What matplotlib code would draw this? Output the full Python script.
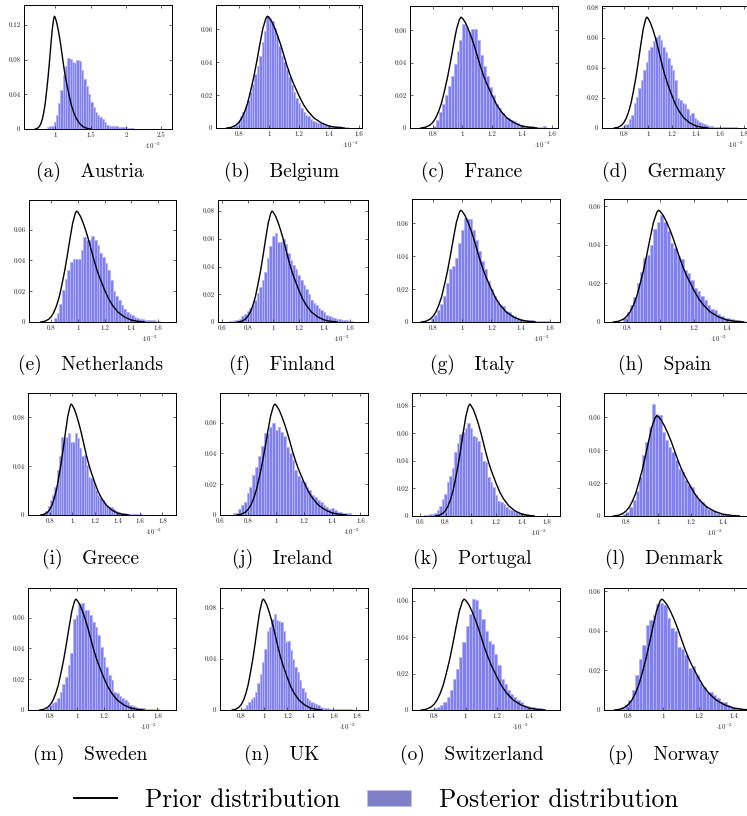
import matplotlib.pyplot as plt
import matplotlib.transforms as mtransforms
from matplotlib.lines import Line2D
from matplotlib.patches import Patch
from matplotlib.ticker import FuncFormatter

plt.rcParams['font.family'] = 'cmr10'
plt.rcParams['mathtext.fontset'] = 'cm'
plt.rcParams['axes.unicode_minus'] = False

# 国名とラベル
countries = ['Austria', 'Belgium', 'France', 'Germany',
             'Netherlands', 'Finland', 'Italy', 'Spain',
             'Greece', 'Ireland', 'Portugal', 'Denmark',
             'Sweden', 'UK', 'Switzerland', 'Norway']
letters = 'abcdefghijklmnop'

# 事前分布の形（ピーク=1 に正規化、x は 10^-2 単位）
prior_x = [0.72, 0.75, 0.78, 0.80, 0.82, 0.84, 0.86, 0.88, 0.90, 0.92, 0.94,
           0.96, 0.98, 0.99, 1.00, 1.02, 1.04, 1.06, 1.08, 1.10, 1.12, 1.14,
           1.16, 1.18, 1.20, 1.23, 1.26, 1.30, 1.35, 1.40, 1.45, 1.50]
prior_rel = [0.0, 0.006, 0.025, 0.05, 0.09, 0.15, 0.23, 0.34, 0.46, 0.60, 0.75,
             0.89, 0.98, 1.0, 0.99, 0.95, 0.89, 0.82, 0.74, 0.65, 0.56, 0.48,
             0.41, 0.35, 0.29, 0.21, 0.15, 0.09, 0.045, 0.018, 0.006, 0.0]
prior_peak = [0.130, 0.068, 0.068, 0.074, 0.072, 0.080, 0.068, 0.058,
              0.091, 0.072, 0.081, 0.061, 0.072, 0.087, 0.061, 0.056]

# 事後分布ヒストグラム（先頭ビン中心、ビン幅、高さ）
hist_start = [0.896, 0.768, 0.81, 0.79, 0.83, 0.66, 0.80, 0.79,
              0.73, 0.70, 0.64, 0.79, 0.78, 0.81, 0.79, 0.75]
hist_step = [0.0324, 0.016, 0.02, 0.02, 0.02, 0.02, 0.02, 0.02,
             0.02, 0.02, 0.02, 0.02, 0.02, 0.02, 0.02, 0.02]

h_austria = [0.002, 0.003, 0.004, 0.008, 0.016, 0.030, 0.045, 0.062, 0.073, 0.082,
             0.081, 0.077, 0.076, 0.079, 0.078, 0.068, 0.058, 0.050, 0.040, 0.031,
             0.025, 0.020, 0.016, 0.014, 0.011, 0.008, 0.005, 0.004, 0.003, 0.003,
             0.003, 0.002, 0.002, 0.002, 0.002, 0.001, 0.001, 0.001, 0.0005, 0.0005,
             0.0005, 0.0005, 0.0005, 0.0005, 0.0005, 0.0005, 0.0005, 0.0005, 0.0005, 0.0005]
h_belgium = [0.001, 0.002, 0.004, 0.007, 0.010, 0.013, 0.017, 0.022, 0.027, 0.033,
             0.038, 0.044, 0.052, 0.059, 0.068, 0.067, 0.065, 0.061, 0.056, 0.050,
             0.044, 0.040, 0.035, 0.031, 0.026, 0.022, 0.018, 0.015, 0.012, 0.010,
             0.008, 0.007, 0.0055, 0.0045, 0.0035, 0.003, 0.0028, 0.0022, 0.002, 0.0015,
             0.0015, 0.001, 0.001, 0.001, 0.0012, 0.0008, 0.0008, 0.0005, 0.0003, 0.0003]
h_france = [0.001, 0.005, 0.010, 0.015, 0.020, 0.026, 0.032, 0.039, 0.047, 0.054,
            0.064, 0.062, 0.059, 0.061, 0.061, 0.054, 0.045, 0.038, 0.032, 0.025,
            0.020, 0.015, 0.012, 0.009, 0.007, 0.006, 0.005, 0.004, 0.003, 0.002,
            0.0015, 0.0012, 0.001, 0.001, 0.0008, 0.0008, 0.0006, 0.001]
h_germany = [0.001, 0.002, 0.003, 0.006, 0.009, 0.017, 0.021, 0.027, 0.032, 0.039,
             0.044, 0.052, 0.054, 0.058, 0.061, 0.062, 0.059, 0.054, 0.051, 0.047,
             0.042, 0.039, 0.032, 0.020, 0.019, 0.017, 0.016, 0.013, 0.009, 0.010,
             0.007, 0.0055, 0.004, 0.0033, 0.0025, 0.002, 0.0015, 0.0012, 0.001, 0.001,
             0.0008, 0.0008, 0.0006, 0.0006, 0.0005, 0.0005, 0.0004, 0.0004, 0.0003]
h_netherlands = [0.0025, 0.006, 0.012, 0.021, 0.028, 0.034, 0.039, 0.041, 0.041, 0.041,
                 0.047, 0.055, 0.053, 0.053, 0.056, 0.053, 0.050, 0.045, 0.042, 0.038,
                 0.034, 0.027, 0.020, 0.017, 0.014, 0.011, 0.0086, 0.0065, 0.005, 0.0043,
                 0.003, 0.0025, 0.002, 0.002, 0.0015, 0.0012, 0.001, 0.001, 0.0008, 0.0006]
h_finland = [0.0008, 0.001, 0.0012, 0.0018, 0.0025, 0.004, 0.006, 0.008, 0.010, 0.012,
             0.016, 0.021, 0.025, 0.030, 0.036, 0.046, 0.055, 0.062, 0.064, 0.058,
             0.058, 0.060, 0.056, 0.050, 0.045, 0.041, 0.038, 0.034, 0.030, 0.027,
             0.024, 0.020, 0.016, 0.014, 0.012, 0.010, 0.009, 0.007, 0.005, 0.004,
             0.0035, 0.003, 0.0025, 0.002, 0.0017, 0.0015, 0.0012, 0.001, 0.0008]
h_italy = [0.0025, 0.0045, 0.0075, 0.011, 0.016, 0.024, 0.032, 0.034, 0.039, 0.048,
           0.056, 0.063, 0.0625, 0.0625, 0.056, 0.050, 0.043, 0.037, 0.032, 0.025,
           0.020, 0.016, 0.0125, 0.0105, 0.0095, 0.0065, 0.006, 0.0045, 0.0035, 0.0025,
           0.002, 0.0012, 0.001, 0.0015, 0.001, 0.0008, 0.0008, 0.0006, 0.0005, 0.0008]
h_spain = [0.002, 0.005, 0.009, 0.013, 0.020, 0.026, 0.033, 0.035, 0.040, 0.048,
           0.052, 0.0555, 0.052, 0.047, 0.041, 0.0385, 0.034, 0.0325, 0.027, 0.0255,
           0.022, 0.0175, 0.016, 0.0135, 0.0115, 0.009, 0.0065, 0.006, 0.004, 0.003,
           0.002, 0.002, 0.0015, 0.001, 0.001, 0.0005]
h_greece = [0.0005, 0.0015, 0.003, 0.007, 0.012, 0.016, 0.023, 0.037, 0.048, 0.064,
            0.063, 0.064, 0.067, 0.060, 0.060, 0.067, 0.063, 0.055, 0.048, 0.049,
            0.041, 0.0315, 0.030, 0.026, 0.0205, 0.0165, 0.0137, 0.0123, 0.0096, 0.008,
            0.0068, 0.0063, 0.0047, 0.0036, 0.0027, 0.002, 0.0018, 0.0015, 0.0012, 0.001,
            0.0008, 0.0008, 0.0006, 0.0005, 0.0005, 0.0004, 0.0004, 0.0003, 0.0003, 0.0003,
            0.0003, 0.0003]
h_ireland = [0.001, 0.0015, 0.004, 0.0065, 0.0086, 0.014, 0.018, 0.026, 0.031, 0.038,
             0.045, 0.053, 0.053, 0.057, 0.060, 0.055, 0.057, 0.054, 0.051, 0.044,
             0.040, 0.036, 0.029, 0.025, 0.023, 0.0215, 0.018, 0.016, 0.013, 0.012,
             0.0097, 0.0086, 0.0065, 0.0054, 0.0037, 0.0047, 0.0032, 0.002, 0.0017, 0.0015,
             0.0015, 0.001]
h_portugal = [0.0007, 0.001, 0.0012, 0.0017, 0.0024, 0.004, 0.007, 0.012, 0.016, 0.0245,
              0.029, 0.035, 0.046, 0.053, 0.0595, 0.061, 0.064, 0.0675, 0.064, 0.058,
              0.057, 0.054, 0.046, 0.040, 0.039, 0.028, 0.0245, 0.021, 0.015, 0.011,
              0.010, 0.009, 0.0065, 0.0053, 0.004, 0.0034, 0.0027, 0.0022, 0.0019, 0.0014,
              0.0012, 0.001, 0.0007]
h_denmark = [0.001, 0.0024, 0.0055, 0.0095, 0.0155, 0.0236, 0.0368, 0.045, 0.054, 0.068,
             0.062, 0.0617, 0.051, 0.046, 0.042, 0.039, 0.034, 0.0287, 0.0267, 0.0216,
             0.0186, 0.0176, 0.0125, 0.0105, 0.0085, 0.006, 0.0044, 0.0034, 0.0028, 0.002,
             0.0014, 0.0012, 0.001, 0.0008, 0.0006, 0.0005]
h_sweden = [0.001, 0.003, 0.0047, 0.005, 0.0075, 0.012, 0.017, 0.0216, 0.029, 0.0367,
            0.059, 0.0615, 0.069, 0.0697, 0.065, 0.065, 0.0615, 0.057, 0.054, 0.0485,
            0.041, 0.0345, 0.028, 0.0227, 0.0194, 0.012, 0.0108, 0.0093, 0.0075, 0.0065,
            0.0054, 0.0032, 0.0028, 0.0022, 0.0015, 0.0011, 0.0011, 0.0009, 0.0007, 0.0006,
            0.0005, 0.0004]
h_uk = [0.0008, 0.0018, 0.004, 0.0065, 0.009, 0.010, 0.014, 0.021, 0.0286, 0.0377,
        0.048, 0.062, 0.065, 0.0714, 0.075, 0.0706, 0.070, 0.0688, 0.062, 0.053,
        0.0538, 0.0468, 0.040, 0.034, 0.030, 0.0234, 0.017, 0.014, 0.0096, 0.0078,
        0.0065, 0.0052, 0.0044, 0.0039, 0.0026, 0.0018, 0.0013, 0.0013, 0.0008, 0.0006,
        0.0006, 0.0005, 0.0005, 0.0004, 0.0004, 0.0004, 0.0005, 0.0006]
h_switzerland = [0.0005, 0.0013, 0.0018, 0.0027, 0.0045, 0.0073, 0.011, 0.0173, 0.0227, 0.029,
                 0.0373, 0.046, 0.0527, 0.061, 0.0604, 0.0555, 0.050, 0.0436, 0.038, 0.0364,
                 0.031, 0.0245, 0.0173, 0.0145, 0.011, 0.009, 0.0073, 0.0055, 0.0045, 0.003,
                 0.0024, 0.0018, 0.0015, 0.0009, 0.0009, 0.0005]
h_norway = [0.0005, 0.0012, 0.0025, 0.005, 0.010, 0.0177, 0.026, 0.033, 0.043, 0.0456,
            0.048, 0.0535, 0.054, 0.053, 0.0464, 0.0413, 0.0397, 0.032, 0.031, 0.0278,
            0.021, 0.022, 0.0177, 0.0135, 0.0118, 0.0093, 0.0093, 0.0076, 0.0059, 0.0042,
            0.0039, 0.0025, 0.0017, 0.0012, 0.0008, 0.0006, 0.0005]

posterior = [h_austria, h_belgium, h_france, h_germany,
             h_netherlands, h_finland, h_italy, h_spain,
             h_greece, h_ireland, h_portugal, h_denmark,
             h_sweden, h_uk, h_switzerland, h_norway]

# 軸範囲と目盛り
x_lo = [0.56, 0.648, 0.647, 0.617, 0.632, 0.566, 0.657, 0.664,
        0.607, 0.603, 0.535, 0.663, 0.632, 0.615, 0.662, 0.661]
x_hi = [2.65, 1.62, 1.643, 1.85, 1.737, 1.744, 1.668, 1.55,
        1.92, 1.654, 1.704, 1.58, 1.74, 1.90, 1.595, 1.505]
x_ticks = [[1, 1.5, 2, 2.5],
           [0.8, 1, 1.2, 1.4, 1.6], [0.8, 1, 1.2, 1.4, 1.6],
           [0.8, 1, 1.2, 1.4, 1.6, 1.8], [0.8, 1, 1.2, 1.4, 1.6],
           [0.6, 0.8, 1, 1.2, 1.4, 1.6], [0.8, 1, 1.2, 1.4, 1.6],
           [0.8, 1, 1.2, 1.4], [0.8, 1, 1.2, 1.4, 1.6, 1.8],
           [0.6, 0.8, 1, 1.2, 1.4, 1.6], [0.6, 0.8, 1, 1.2, 1.4, 1.6],
           [0.8, 1, 1.2, 1.4], [0.8, 1, 1.2, 1.4, 1.6],
           [0.8, 1, 1.2, 1.4, 1.6, 1.8], [0.8, 1, 1.2, 1.4],
           [0.8, 1, 1.2, 1.4]]
y_ticks = [[0, 0.04, 0.08, 0.12],
           [0, 0.02, 0.04, 0.06], [0, 0.02, 0.04, 0.06],
           [0, 0.02, 0.04, 0.06, 0.08], [0, 0.02, 0.04, 0.06],
           [0, 0.02, 0.04, 0.06, 0.08], [0, 0.02, 0.04, 0.06],
           [0, 0.02, 0.04, 0.06], [0, 0.04, 0.08],
           [0, 0.02, 0.04, 0.06], [0, 0.02, 0.04, 0.06, 0.08],
           [0, 0.02, 0.04, 0.06], [0, 0.02, 0.04, 0.06],
           [0, 0.04, 0.08], [0, 0.02, 0.04, 0.06],
           [0, 0.02, 0.04, 0.06]]

# 各パネルの位置（ピクセル：左, 上, 右, 下）
W, H = 747, 816
boxes = [(24, 5, 172, 129), (216, 5, 362, 128), (410, 6, 558, 128), (602, 6, 750, 128),
         (29, 200, 176, 322), (218, 200, 368, 322), (412, 199, 560, 322), (604, 199, 752, 322),
         (28, 393, 176, 515), (220, 393, 368, 515), (412, 393, 560, 516), (604, 393, 752, 516),
         (28, 588, 176, 710), (220, 588, 368, 710), (412, 588, 560, 710), (604, 588, 752, 710)]
cap_x = [90, 282, 472, 664]
cap_y = [172, 365, 559, 755]

bar_face = '#8080f0'
bar_edge = '#b4b4f8'

fig = plt.figure(figsize=(W / 100, H / 100), dpi=100)

fmt = FuncFormatter(lambda v, p: f'{v:g}')

for i, name in enumerate(countries):
    l, t, r, b = boxes[i]
    ax = fig.add_axes([l / W, 1 - b / H, (r - l) / W, (b - t) / H])

    heights = posterior[i]
    centers = [hist_start[i] + k * hist_step[i] for k in range(len(heights))]
    ax.bar(centers, heights, width=hist_step[i], color=bar_face,
           edgecolor=bar_edge, linewidth=0.6, zorder=1)
    ax.plot(prior_x, [v * prior_peak[i] for v in prior_rel],
            color='black', linewidth=1.0, zorder=3)

    ax.set_xlim(x_lo[i], x_hi[i])
    ax.set_ylim(0, 1.1 * max(prior_peak[i], max(heights)))
    ax.set_xticks(x_ticks[i])
    ax.set_yticks(y_ticks[i])
    ax.xaxis.set_major_formatter(fmt)
    ax.yaxis.set_major_formatter(fmt)
    ax.tick_params(direction='in', length=2.5, width=0.5, labelsize=5,
                   pad=2.5, top=True, right=True, colors='#222222')
    for s in ax.spines.values():
        s.set_linewidth(0.7)

    trans = mtransforms.blended_transform_factory(ax.transData, ax.transAxes)
    ax.text(x_ticks[i][-1], -0.14, r'$\cdot 10^{-2}$', transform=trans,
            ha='right', va='center', fontsize=5, color='#222222')

    row, col = divmod(i, 4)
    fig.text(cap_x[col] / W, 1 - cap_y[row] / H, f'({letters[i]})   {name}',
             ha='center', va='center', fontsize=14)

handles = [Line2D([], [], color='black', linewidth=1.4),
           Patch(facecolor='#8080c8', edgecolor='#c0c0e8', linewidth=0.6)]
fig.legend(handles, ['Prior distribution', 'Posterior distribution'],
           loc='center', bbox_to_anchor=(376 / W, 1 - 800 / H), ncol=2,
           frameon=False, fontsize=18.3, handlelength=1.72, handleheight=0.63,
           handletextpad=1.1, columnspacing=1.05, borderpad=0.2)

plt.savefig('out.png', dpi=100)
